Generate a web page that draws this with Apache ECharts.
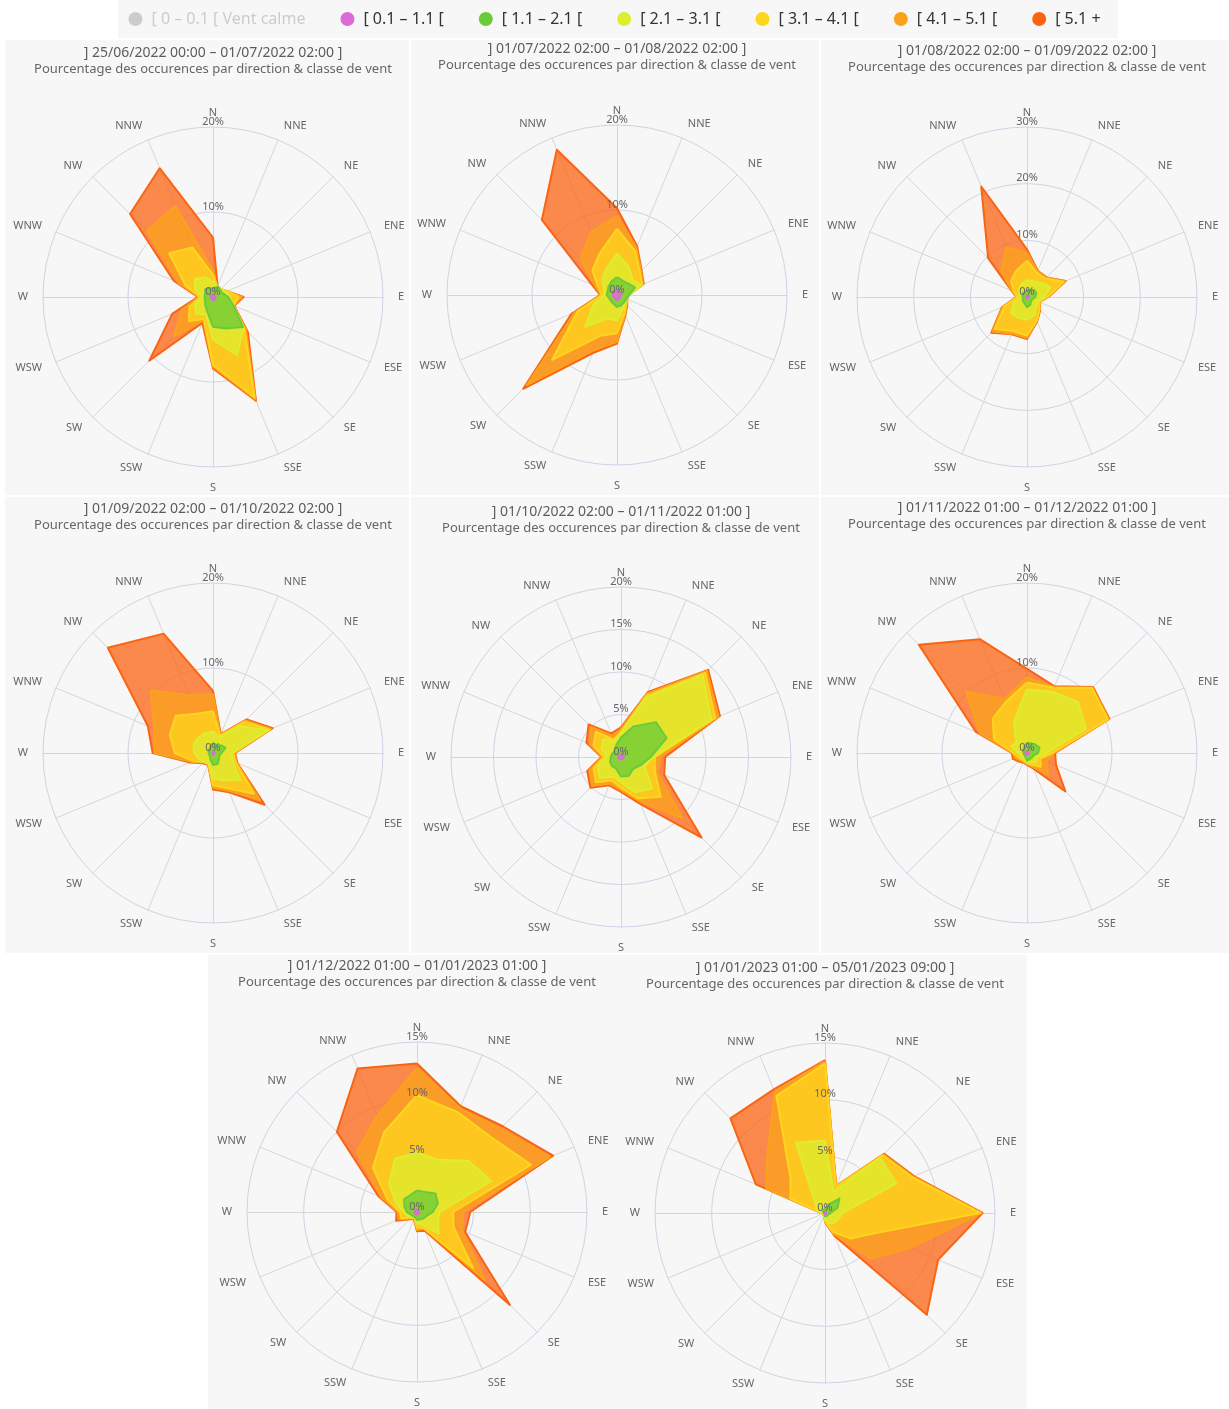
<!DOCTYPE html>
<html>
<head>
<meta charset="utf-8">
<title>Rose des vents mensuelle</title>
<script src="https://cdn.jsdelivr.net/npm/echarts@6/dist/echarts.min.js"></script>
<style>
  html, body { margin: 0; padding: 0; background: #ffffff; }
  #wrap { position: relative; width: 1229px; height: 1409px; overflow: hidden; }
  .panel { position: absolute; background: #f7f7f7; }
  #chart { position: absolute; left: 0; top: 0; width: 1229px; height: 1409px; }
</style>
</head>
<body>
<div id="wrap">
  <div class="panel" style="left:118px;top:0;width:1000px;height:38px"></div>
  <div class="panel" style="left:5px;top:40px;width:404px;height:455px"></div>
  <div class="panel" style="left:411px;top:40px;width:408px;height:455px"></div>
  <div class="panel" style="left:821px;top:40px;width:408px;height:455px"></div>
  <div class="panel" style="left:5px;top:497px;width:404px;height:456px"></div>
  <div class="panel" style="left:411px;top:497px;width:408px;height:456px"></div>
  <div class="panel" style="left:821px;top:497px;width:408px;height:456px"></div>
  <div class="panel" style="left:208px;top:955px;width:819px;height:454px"></div>
  <div id="chart"></div>
</div>
<script>
// Compass directions, clockwise from north
const DIRECTIONS = ['N', 'NNE', 'NE', 'ENE', 'E', 'ESE', 'SE', 'SSE', 'S', 'SSW', 'SW', 'WSW', 'W', 'WNW', 'NW', 'NNW'];

// Wind speed classes (m/s)
const CLASSES = ['[ 0 – 0.1 [ Vent calme', '[ 0.1 – 1.1 [', '[ 1.1 – 2.1 [', '[ 2.1 – 3.1 [', '[ 3.1 – 4.1 [', '[ 4.1 – 5.1 [', '[ 5.1 +'];

// Period labels
const PERIODS = [
  '] 25/06/2022 00:00 – 01/07/2022 02:00 ]',
  '] 01/07/2022 02:00 – 01/08/2022 02:00 ]',
  '] 01/08/2022 02:00 – 01/09/2022 02:00 ]',
  '] 01/09/2022 02:00 – 01/10/2022 02:00 ]',
  '] 01/10/2022 02:00 – 01/11/2022 01:00 ]',
  '] 01/11/2022 01:00 – 01/12/2022 01:00 ]',
  '] 01/12/2022 01:00 – 01/01/2023 01:00 ]',
  '] 01/01/2023 01:00 – 05/01/2023 09:00 ]'
];

// Radial axis: maximum and tick step (%) of each rose
const AXIS_MAX  = [20, 20, 30, 20, 20, 20, 15, 15];
const AXIS_STEP = [10, 10, 10, 10, 5, 10, 5, 5];

// Calm class (hidden in the legend)
const CALM = [0, 0, 0, 0, 0, 0, 0, 0, 0, 0, 0, 0, 0, 0, 0, 0];

// Percentage of occurrences per direction, one array per speed class
// Period 1: 25/06 – 01/07/2022
const p1_c1 = [0.3, 0.2, 0.2, 0.2, 0.3, 0.3, 0.4, 0.3, 0.4, 0.3, 0.2, 0.2, 0.3, 0.2, 0.3, 0.3];
const p1_c2 = [0.7, 1.1, 1.0, 1.0, 1.5, 2.3, 4.6, 3.7, 3.1, 1.5, 1.1, 0.8, 0.7, 0.8, 1.0, 0.8];
const p1_c3 = [0.8, 0.0, 0.1, 0.4, 0.2, 0.0, 0.1, 3.4, 1.5, 0.4, 1.5, 1.3, 0.2, 1.3, 1.7, 1.4];
const p1_c4 = [0.8, 0.0, 0.0, 0.2, 1.0, 0.0, 0.1, 5.4, 3.0, 0.6, 1.2, 0.7, 0.3, 1.2, 4.3, 3.8];
const p1_c5 = [0.5, 0.0, 0.0, 0.0, 0.4, 0.0, 0.3, 0.2, 0.2, 0.2, 2.5, 1.0, 0.2, 0.9, 3.7, 5.3];
const p1_c6 = [3.9, 0.1, 0.0, 0.0, 0.2, 0.1, 0.3, 0.2, 0.2, 0.3, 4.1, 1.2, 0.1, 0.6, 2.8, 4.8];

// Period 2: 01/07 – 01/08/2022
const p2_c1 = [0.6, 0.5, 0.5, 0.6, 0.5, 0.4, 0.5, 0.5, 0.6, 0.5, 0.4, 0.5, 0.5, 0.5, 0.6, 0.5];
const p2_c2 = [1.5, 1.3, 1.4, 1.7, 0.9, 0.8, 0.7, 0.8, 0.8, 0.6, 0.6, 0.5, 0.7, 0.7, 0.8, 1.2];
const p2_c3 = [2.8, 1.8, 0.7, 0.7, 0.0, 0.0, 0.1, 0.5, 1.6, 1.9, 4.3, 2.0, 0.3, 0.4, 1.1, 1.6];
const p2_c4 = [2.9, 2.0, 1.2, 0.2, 0.0, 0.1, 0.2, 0.5, 1.5, 2.2, 5.5, 2.0, 0.3, 0.8, 1.6, 2.0];
const p2_c5 = [1.5, 0.4, 0.2, 0.1, 0.0, 0.0, 0.1, 0.2, 1.0, 1.8, 4.2, 0.4, 0.1, 0.4, 2.0, 2.7];
const p2_c6 = [0.9, 0.2, 0.1, 0.1, 0.0, 0.0, 0.1, 0.1, 0.2, 0.4, 0.6, 0.4, 0.1, 0.4, 6.4, 10.5];

// Period 3: 01/08 – 01/09/2022
const p3_c1 = [0.3, 0.3, 0.3, 0.3, 0.3, 0.2, 0.2, 0.3, 0.3, 0.2, 0.2, 0.2, 0.2, 0.2, 0.2, 0.2];
const p3_c2 = [0.9, 1.1, 1.5, 1.5, 1.2, 0.8, 0.8, 1.2, 1.5, 1.0, 0.8, 0.6, 0.6, 0.6, 0.8, 0.8];
const p3_c3 = [1.8, 1.6, 1.7, 2.7, 1.5, 1.0, 1.3, 2.0, 2.2, 2.8, 3.0, 1.7, 0.4, 0.7, 1.0, 1.5];
const p3_c4 = [3.4, 1.6, 1.1, 2.5, 0.6, 0.3, 0.8, 1.0, 2.8, 2.5, 4.0, 1.8, 0.5, 1.0, 2.0, 2.5];
const p3_c5 = [1.4, 0.3, 0.2, 0.3, 0.1, 0.1, 0.1, 0.1, 0.4, 0.5, 0.6, 0.4, 0.1, 0.4, 2.5, 4.5];
const p3_c6 = [0.6, 0.1, 0.1, 0.1, 0.1, 0.0, 0.1, 0.1, 0.2, 0.1, 0.3, 0.1, 0.1, 0.1, 3.2, 11.6];

// Period 4: 01/09 – 01/10/2022
const p4_c1 = [0.2, 0.1, 0.1, 0.2, 0.2, 0.1, 0.1, 0.2, 0.2, 0.1, 0.1, 0.1, 0.1, 0.1, 0.1, 0.2];
const p4_c2 = [1.0, 0.9, 1.2, 1.4, 0.8, 0.7, 0.9, 1.2, 1.2, 0.7, 0.4, 0.4, 0.4, 0.5, 0.5, 0.6];
const p4_c3 = [1.3, 1.0, 3.2, 5.4, 1.2, 1.7, 3.5, 2.1, 1.6, 0.5, 0.9, 1.3, 1.7, 1.9, 1.9, 1.7];
const p4_c4 = [2.4, 0.2, 0.7, 0.2, 0.2, 0.4, 2.3, 1.0, 0.8, 0.1, 0.1, 0.7, 2.3, 3.0, 3.7, 2.5];
const p4_c5 = [2.0, 0.1, 0.2, 0.2, 0.1, 0.1, 1.0, 0.3, 0.3, 0.0, 0.1, 0.2, 2.4, 2.0, 4.2, 2.4];
const p4_c6 = [0.4, 0.1, 0.2, 0.2, 0.1, 0.1, 0.8, 0.2, 0.2, 0.1, 0.1, 0.2, 0.2, 0.8, 7.1, 7.8];

// Period 5: 01/10 – 01/11/2022
const p5_c1 = [0.4, 0.4, 0.4, 0.4, 0.3, 0.3, 0.3, 0.3, 0.3, 0.3, 0.3, 0.3, 0.3, 0.3, 0.3, 0.3];
const p5_c2 = [1.9, 3.5, 5.4, 5.4, 3.2, 2.2, 1.7, 2.1, 2.0, 1.2, 1.2, 1.1, 0.9, 0.8, 0.7, 1.2];
const p5_c3 = [0.5, 3.6, 7.8, 5.7, 0.3, 0.5, 3.2, 2.1, 0.7, 1.0, 2.0, 1.6, 0.5, 1.4, 2.0, 0.5];
const p5_c4 = [0.2, 0.3, 0.4, 0.5, 0.2, 1.3, 1.4, 0.8, 0.6, 0.5, 0.7, 0.5, 0.3, 1.0, 1.2, 0.2];
const p5_c5 = [0.3, 0.3, 0.3, 0.4, 0.6, 0.3, 3.6, 0.3, 0.3, 0.4, 0.6, 0.5, 0.2, 0.5, 0.8, 0.5];
const p5_c6 = [0.2, 0.2, 0.2, 0.2, 0.6, 0.9, 3.2, 0.4, 0.2, 0.2, 0.3, 0.3, 0.1, 0.4, 0.4, 0.3];

// Period 6: 01/11 – 01/12/2022
const p6_c1 = [0.2, 0.2, 0.2, 0.2, 0.2, 0.2, 0.2, 0.2, 0.2, 0.2, 0.2, 0.2, 0.2, 0.2, 0.2, 0.2];
const p6_c2 = [1.0, 1.0, 1.2, 1.4, 1.1, 0.6, 0.6, 0.6, 0.7, 0.3, 0.2, 0.2, 0.2, 0.3, 0.4, 0.6];
const p6_c3 = [6.3, 6.6, 7.1, 5.9, 1.0, 0.5, 0.7, 0.4, 0.1, 0.3, 0.3, 0.4, 0.6, 1.5, 1.2, 3.2];
const p6_c4 = [0.8, 0.5, 2.3, 2.8, 0.7, 0.4, 0.8, 0.3, 0.2, 0.2, 0.3, 0.4, 0.6, 2.2, 3.9, 2.5];
const p6_c5 = [0.6, 0.1, 0.1, 0.1, 0.2, 0.8, 1.2, 0.3, 0.1, 0.1, 0.2, 0.3, 0.1, 1.8, 4.5, 0.4];
const p6_c6 = [1.0, 0.1, 0.1, 0.1, 0.1, 1.2, 2.9, 0.2, 0.1, 0.1, 0.2, 0.3, 0.1, 0.5, 7.8, 7.6];

// Period 7: 01/12/2022 – 01/01/2023
const p7_c1 = [0.2, 0.2, 0.2, 0.2, 0.2, 0.2, 0.2, 0.2, 0.2, 0.2, 0.2, 0.2, 0.2, 0.2, 0.2, 0.2];
const p7_c2 = [1.7, 1.7, 2.1, 1.8, 1.2, 0.7, 0.6, 0.5, 0.5, 0.3, 0.3, 0.4, 0.7, 1.0, 1.4, 1.4];
const p7_c3 = [3.3, 3.1, 4.1, 5.1, 0.6, 1.1, 1.9, 0.5, 0.3, 0.0, 0.1, 0.3, 0.3, 0.8, 1.9, 3.5];
const p7_c4 = [5.1, 4.5, 2.9, 3.8, 1.2, 1.5, 4.3, 0.3, 0.4, 0.1, 0.1, 0.6, 0.3, 0.8, 2.0, 2.5];
const p7_c5 = [2.4, 0.4, 1.1, 1.8, 0.9, 0.8, 1.5, 0.1, 0.2, 0.0, 0.1, 0.2, 0.2, 0.6, 2.0, 1.6];
const p7_c6 = [0.4, 0.2, 0.3, 0.3, 0.6, 0.3, 3.1, 0.2, 0.1, 0.1, 0.1, 0.3, 0.1, 0.3, 2.5, 4.5];

// Period 8: 01/01 – 05/01/2023
const p8_c1 = [0.1, 0.1, 0.1, 0.1, 0.1, 0.1, 0.1, 0.1, 0.1, 0.1, 0.1, 0.1, 0.1, 0.1, 0.1, 0.1];
const p8_c2 = [0.3, 0.7, 1.7, 1.1, 0.4, 0.2, 0.2, 0.2, 0.2, 0.0, 0.0, 0.0, 0.0, 0.1, 0.1, 0.2];
const p8_c3 = [6.0, 1.2, 5.1, 5.6, 1.0, 1.0, 0.9, 0.7, 0.3, 0.1, 0.1, 0.1, 0.2, 0.6, 1.0, 6.4];
const p8_c4 = [6.8, 0.5, 0.3, 1.5, 12.2, 3.4, 2.0, 0.8, 0.1, 0.0, 0.0, 0.0, 0.0, 2.5, 3.1, 4.5];
const p8_c5 = [0.2, 0.1, 0.1, 0.1, 0.1, 3.4, 2.5, 0.2, 0.0, 0.0, 0.0, 0.0, 0.0, 2.3, 2.9, 0.4];
const p8_c6 = [0.1, 0.0, 0.1, 0.1, 0.1, 2.7, 7.0, 0.2, 0.1, 0.0, 0.0, 0.0, 0.0, 1.0, 4.6, 0.2];

const PERIOD_CLASSES = [
  [p1_c1, p1_c2, p1_c3, p1_c4, p1_c5, p1_c6],
  [p2_c1, p2_c2, p2_c3, p2_c4, p2_c5, p2_c6],
  [p3_c1, p3_c2, p3_c3, p3_c4, p3_c5, p3_c6],
  [p4_c1, p4_c2, p4_c3, p4_c4, p4_c5, p4_c6],
  [p5_c1, p5_c2, p5_c3, p5_c4, p5_c5, p5_c6],
  [p6_c1, p6_c2, p6_c3, p6_c4, p6_c5, p6_c6],
  [p7_c1, p7_c2, p7_c3, p7_c4, p7_c5, p7_c6],
  [p8_c1, p8_c2, p8_c3, p8_c4, p8_c5, p8_c6]
];

// ---- presentation ----
const COLORS = ['#cccccc', '#dc6ad8', '#6acb3a', '#dcee2e', '#fdd61e', '#fba21d', '#fb6412'];
const FONT = '"Noto Sans", "Open Sans", sans-serif';
const SUBTITLE = 'Pourcentage des occurences par direction & classe de vent';

// rose centres and title tops on the page
const LAYOUT = [
  { cx: 213, cy: 297, titleTop: 45 },
  { cx: 617, cy: 295, titleTop: 41 },
  { cx: 1027, cy: 297, titleTop: 43 },
  { cx: 213, cy: 753, titleTop: 501 },
  { cx: 621, cy: 757, titleTop: 504 },
  { cx: 1027, cy: 753, titleTop: 500 },
  { cx: 417, cy: 1212, titleTop: 958 },
  { cx: 825, cy: 1213, titleTop: 960 }
];
const RADIUS = 170;

// ECharts radar runs counter-clockwise from the top: walk the compass backwards
const ORDER = DIRECTIONS.map((d, i) => (16 - i) % 16);
const reorder = arr => ORDER.map(i => arr[i]);

// Cumulative totals so that each speed class sits on top of the slower ones
function stacked(classArrays) {
  const out = [];
  let run = DIRECTIONS.map(() => 0);
  classArrays.forEach(arr => {
    run = run.map((v, i) => Math.round((v + arr[i]) * 100) / 100);
    out.push(run.slice());
  });
  return out;
}

const titles = [];
const radars = [];
const series = [];

PERIODS.forEach((period, p) => {
  const L = LAYOUT[p];
  const max = AXIS_MAX[p];
  const splitNumber = max / AXIS_STEP[p];

  titles.push({
    text: period,
    subtext: SUBTITLE,
    left: L.cx,
    top: L.titleTop,
    textAlign: 'center',
    padding: 0,
    itemGap: 0,
    textStyle: { fontFamily: FONT, fontSize: 14, fontWeight: 'normal', color: '#5c5c5c', lineHeight: 16 },
    subtextStyle: { fontFamily: FONT, fontSize: 13, color: '#666', lineHeight: 16 }
  });

  // grid, direction names (drawn beneath the areas)
  radars.push({
    center: [L.cx, L.cy],
    radius: RADIUS,
    startAngle: 90,
    shape: 'circle',
    splitNumber: splitNumber,
    nameGap: 15,
    z: 1,
    indicator: ORDER.map((i, j) => {
      const ind = { name: DIRECTIONS[i], min: 0, max: max };
      if (j === 0) ind.nameGap = 9;
      return ind;
    }),
    axisName: { color: '#666', fontSize: 11, fontFamily: FONT },
    axisLine: { lineStyle: { color: '#d6d6d6', width: 1 } },
    splitLine: { lineStyle: { color: '#cdd3e4', width: 1 } },
    splitArea: { show: false },
    axisTick: { show: false },
    axisLabel: { show: false }
  });

  // percentage labels on the north axis (drawn over the areas)
  radars.push({
    center: [L.cx, L.cy],
    radius: RADIUS,
    startAngle: 90,
    shape: 'circle',
    splitNumber: splitNumber,
    z: 5,
    indicator: ORDER.map((i, j) => {
      const ind = { name: '', min: 0, max: max };
      if (j === 0) ind.axisLabel = { show: true };
      return ind;
    }),
    axisName: { show: false },
    axisLine: { show: false },
    splitLine: { show: false },
    splitArea: { show: false },
    axisTick: { show: false },
    axisLabel: {
      show: false,
      formatter: '{value}%',
      color: '#666',
      fontSize: 11,
      fontFamily: FONT,
      margin: 0,
      align: 'center',
      verticalAlign: 'bottom',
      showMinLabel: true,
      showMaxLabel: true
    }
  });

  const cum = stacked(PERIOD_CLASSES[p]);
  const data = [];
  // fastest class first so that slower classes are painted over it
  for (let k = 6; k >= 1; k--) {
    data.push({
      name: CLASSES[k],
      value: reorder(cum[k - 1]),
      itemStyle: { color: COLORS[k] },
      lineStyle: { color: COLORS[k], width: 2 },
      areaStyle: { color: COLORS[k], opacity: 0.75 }
    });
  }
  data.push({
    name: CLASSES[0],
    value: reorder(CALM),
    itemStyle: { color: COLORS[0] },
    lineStyle: { color: COLORS[0], width: 2 },
    areaStyle: { color: COLORS[0], opacity: 0.75 }
  });

  series.push({
    type: 'radar',
    radarIndex: 2 * p,
    z: 2,
    symbol: 'none',
    silent: true,
    emphasis: { disabled: true },
    data: data
  });
});

const chart = echarts.init(document.getElementById('chart'), null, { renderer: 'canvas' });
chart.setOption({
  backgroundColor: 'transparent',
  animation: false,
  title: titles,
  legend: {
    data: CLASSES,
    selected: { [CLASSES[0]]: false },
    icon: 'circle',
    left: 'center',
    top: 11,
    padding: 0,
    itemWidth: 14,
    itemHeight: 14,
    itemGap: 35,
    inactiveColor: '#cccccc',
    textStyle: { fontFamily: FONT, fontSize: 16, color: '#333', padding: [0, 0, 0, 4] }
  },
  radar: radars,
  series: series
});
</script>
</body>
</html>
